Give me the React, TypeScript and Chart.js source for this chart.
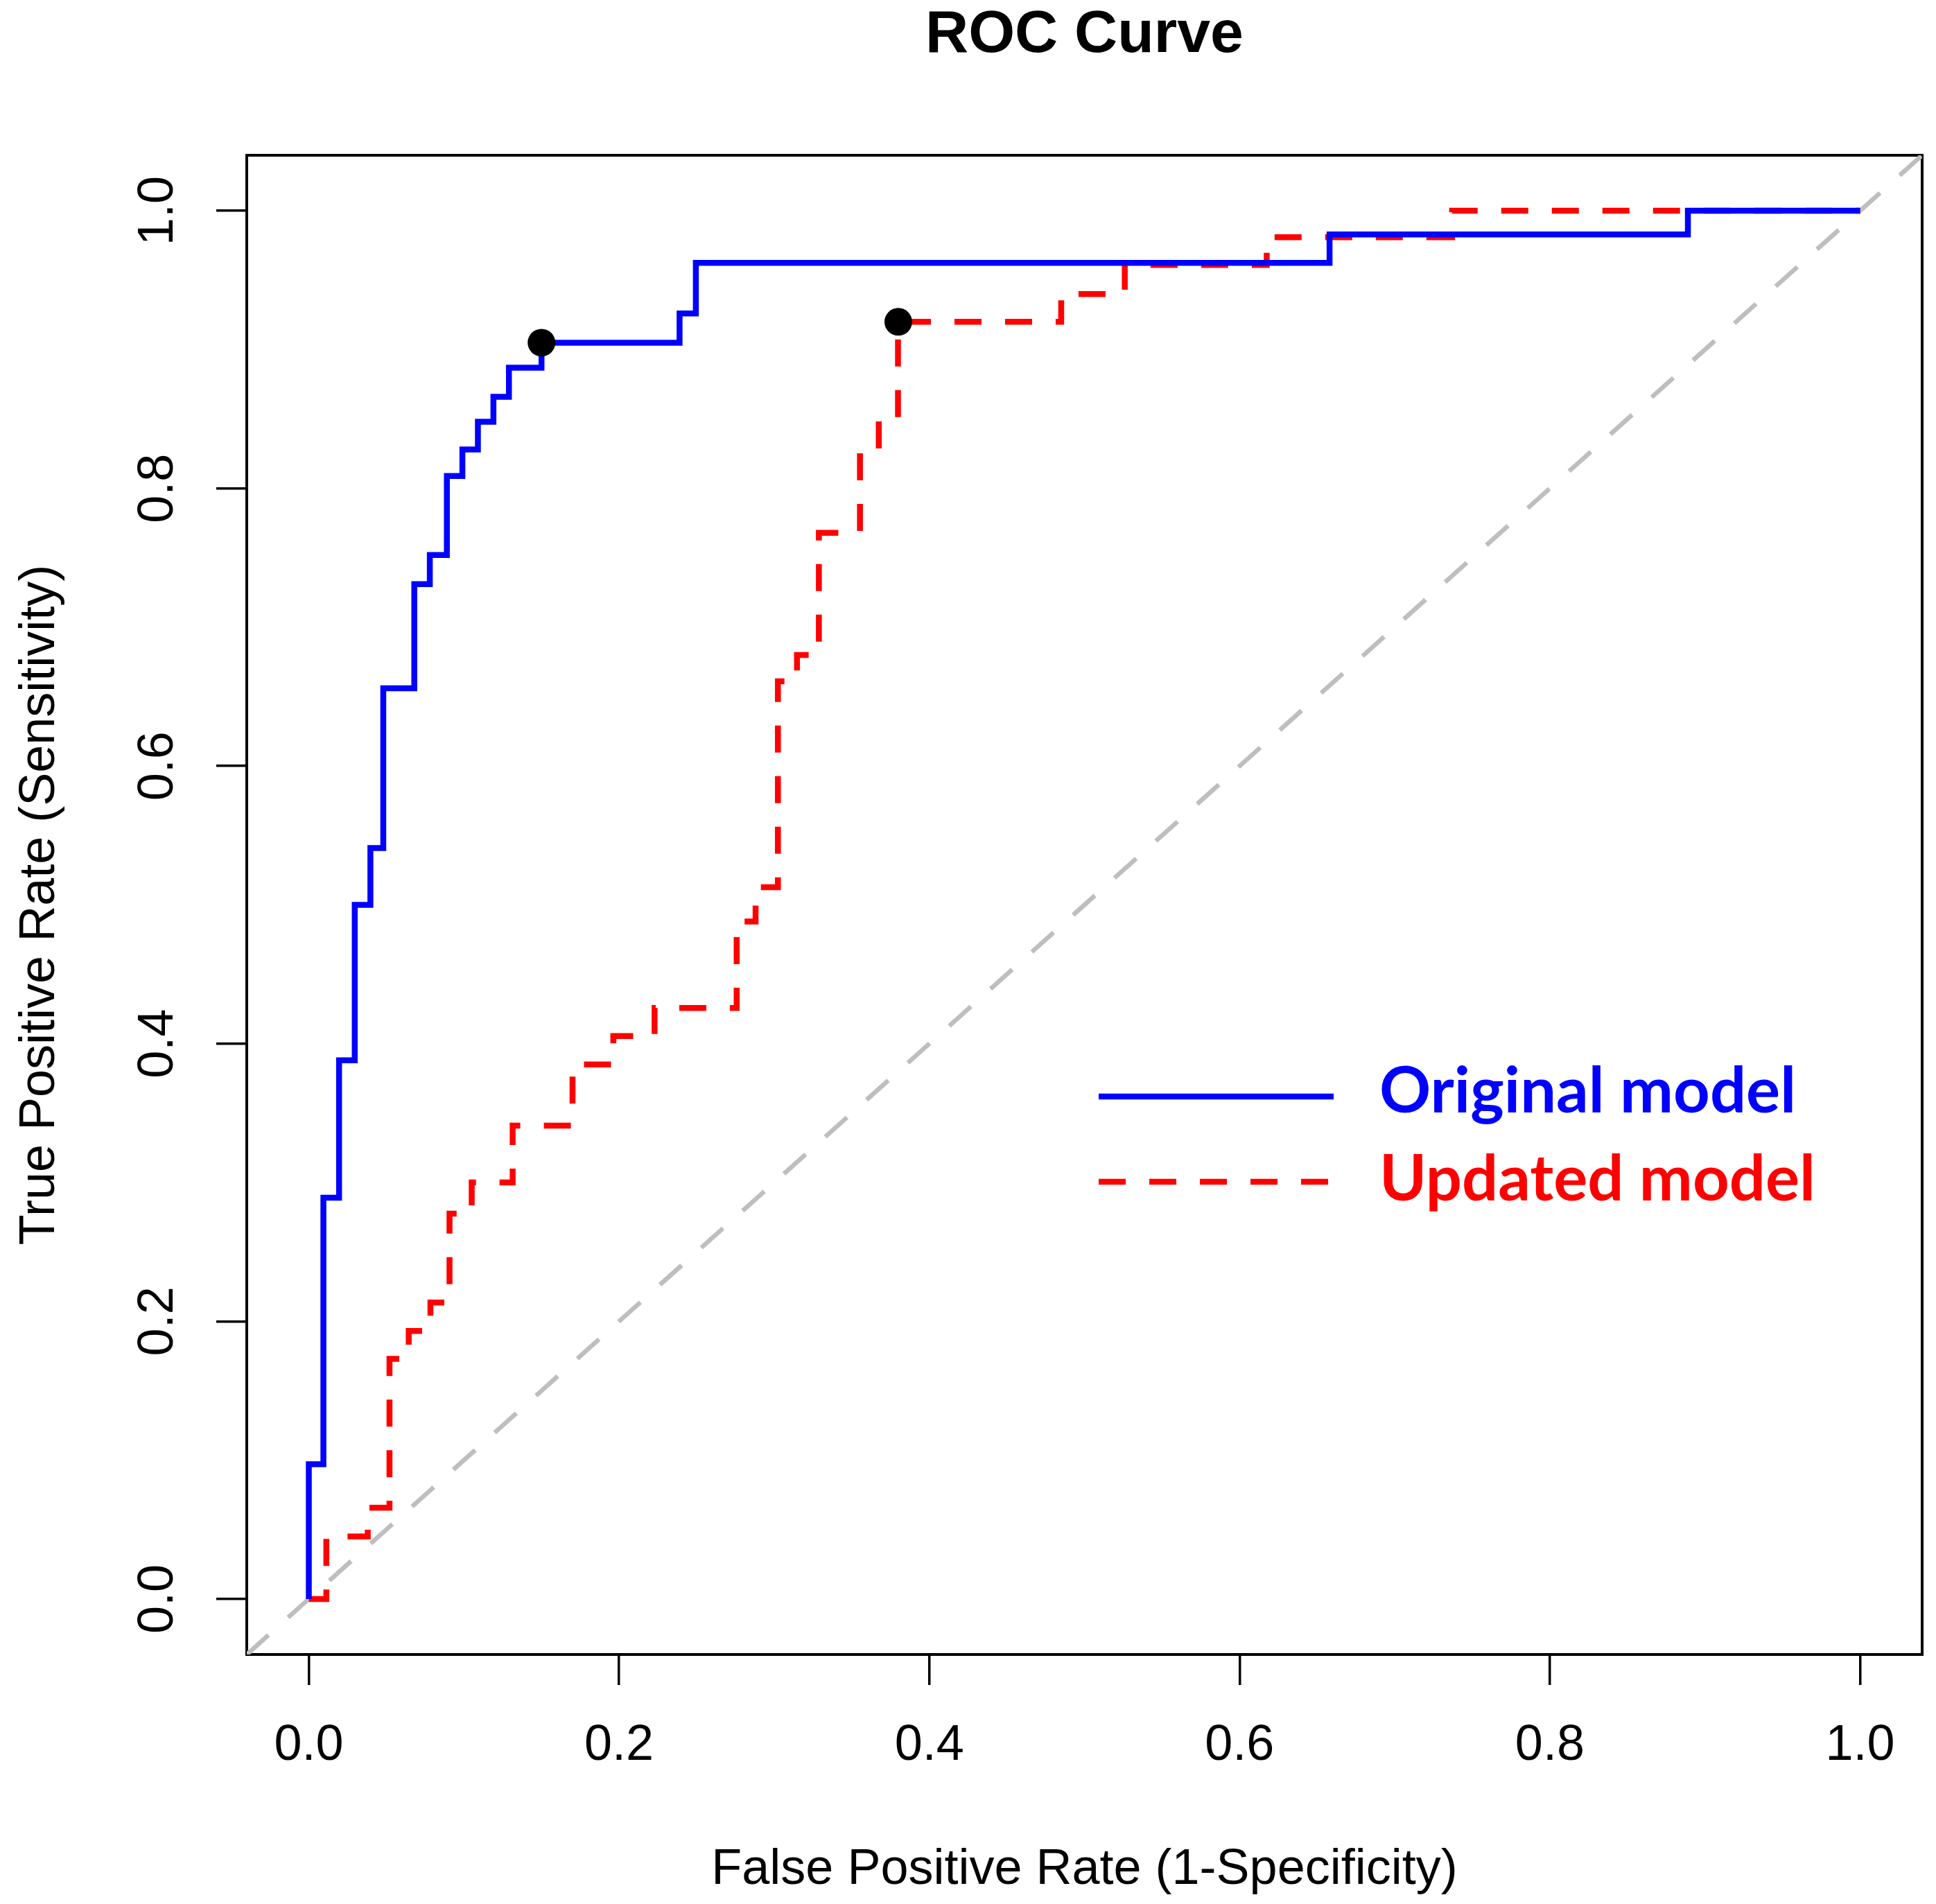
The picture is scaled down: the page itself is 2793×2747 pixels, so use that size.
import React, { useEffect, useRef } from "react";
import { Chart, registerables } from "chart.js";

Chart.register(...registerables);

// ---------- data ----------
const TITLE = "ROC Curve";
const X_TITLE = "False Positive Rate (1-Specificity)";
const Y_TITLE = "True Positive Rate (Sensitivity)";
const TICKS = [0, 0.2, 0.4, 0.6, 0.8, 1.0];
const AXIS_MIN = -0.04;
const AXIS_MAX = 1.04;

const LEGEND_LABELS = ["Original model", "Updated model"];

const ORIGINAL_FPR = [
  0, 0, 0.0094, 0.0094, 0.0195, 0.0195, 0.0296, 0.0296, 0.0397, 0.0397,
  0.048, 0.048, 0.068, 0.068, 0.078, 0.078, 0.089, 0.089, 0.099, 0.099,
  0.109, 0.109, 0.119, 0.119, 0.129, 0.129, 0.15, 0.15, 0.239, 0.239,
  0.2495, 0.2495, 0.658, 0.658, 0.889, 0.889, 1.0,
];
const ORIGINAL_TPR = [
  0, 0.097, 0.097, 0.289, 0.289, 0.388, 0.388, 0.5, 0.5, 0.541,
  0.541, 0.656, 0.656, 0.731, 0.731, 0.752, 0.752, 0.809, 0.809, 0.828,
  0.828, 0.848, 0.848, 0.866, 0.866, 0.887, 0.887, 0.905, 0.905, 0.926,
  0.926, 0.9625, 0.9625, 0.983, 0.983, 1.0, 1.0,
];

const UPDATED_FPR = [
  0, 0.0113, 0.0113, 0.038, 0.038, 0.052, 0.052, 0.0644, 0.0644, 0.0784,
  0.0784, 0.0907, 0.0907, 0.105, 0.105, 0.1314, 0.1314, 0.17, 0.17, 0.1963,
  0.1963, 0.2229, 0.2229, 0.2758, 0.2758, 0.288, 0.288, 0.3024, 0.3024, 0.3147,
  0.3147, 0.3288, 0.3288, 0.3553, 0.3553, 0.3674, 0.3674, 0.3798, 0.3798, 0.485,
  0.485, 0.526, 0.526, 0.6175, 0.6175, 0.737, 0.737, 1.0,
];
const UPDATED_TPR = [
  0, 0, 0.045, 0.045, 0.0657, 0.0657, 0.173, 0.173, 0.193, 0.193,
  0.2135, 0.2135, 0.2775, 0.2775, 0.3, 0.3, 0.341, 0.341, 0.385, 0.385,
  0.4055, 0.4055, 0.4257, 0.4257, 0.488, 0.488, 0.5127, 0.5127, 0.661, 0.661,
  0.68, 0.68, 0.768, 0.768, 0.828, 0.828, 0.849, 0.849, 0.92, 0.92,
  0.94, 0.94, 0.961, 0.961, 0.981, 0.981, 1.0, 1.0,
];

const CHANCE_X = [-0.04, 1.04];
const CHANCE_Y = [-0.04, 1.04];

const CUTOFF_FPR = [0.15, 0.38];
const CUTOFF_TPR = [0.905, 0.92];

// ---------- styles ----------
const W = 2793;
const H = 2747;
const FONT = "'Liberation Sans', Arial, sans-serif";
const BLUE = "#0000FF";
const RED = "#FF0000";
const GRAY = "#BEBEBE";
const RED_DASH = [39, 34];

const toPoints = (xs: number[], ys: number[]) => xs.map((x, i) => ({ x, y: ys[i] }));

const frameAndTextPlugin = {
  id: "frameAndText",
  beforeDraw(chart: any) {
    const ctx = chart.ctx;
    ctx.save();
    ctx.fillStyle = "#FFFFFF";
    ctx.fillRect(0, 0, chart.width, chart.height);
    ctx.restore();
  },
  beforeDatasetsDraw(chart: any) {
    const { ctx, chartArea } = chart;
    ctx.save();
    ctx.strokeStyle = "#000000";
    ctx.lineWidth = 4;
    ctx.strokeRect(chartArea.left, chartArea.top, chartArea.right - chartArea.left, chartArea.bottom - chartArea.top);
    ctx.restore();
  },
  afterDraw(chart: any) {
    const { ctx, chartArea } = chart;
    ctx.save();
    // title
    ctx.fillStyle = "#000000";
    ctx.font = `bold 86px ${FONT}`;
    ctx.textAlign = "center";
    ctx.textBaseline = "middle";
    ctx.fillText(TITLE, (chartArea.left + chartArea.right) / 2, 51);

    // legend
    const lineX0 = 1585;
    const lineX1 = 1924;
    const textX = 1990;
    const rows = [
      { label: LEGEND_LABELS[0], color: BLUE, dash: [] as number[], lineY: 1582, baseY: 1605 },
      { label: LEGEND_LABELS[1], color: RED, dash: RED_DASH, lineY: 1705, baseY: 1732 },
    ];
    rows.forEach((r) => {
      ctx.strokeStyle = r.color;
      ctx.lineWidth = 8.5;
      ctx.lineCap = "butt";
      ctx.setLineDash(r.dash);
      ctx.beginPath();
      ctx.moveTo(lineX0, r.lineY);
      ctx.lineTo(lineX1, r.lineY);
      ctx.stroke();
      ctx.setLineDash([]);
      ctx.fillStyle = r.color;
      ctx.font = `bold 92px Lato, 'Open Sans', sans-serif`;
      ctx.textAlign = "left";
      ctx.textBaseline = "alphabetic";
      ctx.fillText(r.label, textX, r.baseY);
    });
    ctx.restore();
  },
};

export default function App() {
  const canvasRef = useRef<HTMLCanvasElement | null>(null);

  useEffect(() => {
    document.body.style.margin = "0";
    const canvas = canvasRef.current;
    if (!canvas) return;

    const tickFont = { family: FONT, size: 72 };

    const chart = new Chart(canvas, {
      type: "line",
      data: {
        datasets: [
          {
            label: "Cut-off",
            data: toPoints(CUTOFF_FPR, CUTOFF_TPR),
            showLine: false,
            pointRadius: 20,
            pointBackgroundColor: "#000000",
            pointBorderColor: "#000000",
            pointBorderWidth: 0,
            borderColor: "#000000",
            order: 0,
          } as any,
          {
            label: LEGEND_LABELS[0],
            data: toPoints(ORIGINAL_FPR, ORIGINAL_TPR),
            borderColor: BLUE,
            borderWidth: 8.5,
            pointRadius: 0,
            tension: 0,
            fill: false,
            borderJoinStyle: "miter",
            order: 1,
          },
          {
            label: LEGEND_LABELS[1],
            data: toPoints(UPDATED_FPR, UPDATED_TPR),
            borderColor: RED,
            borderWidth: 8.5,
            borderDash: RED_DASH,
            pointRadius: 0,
            tension: 0,
            fill: false,
            borderJoinStyle: "miter",
            order: 2,
          },
          {
            label: "Chance",
            data: toPoints(CHANCE_X, CHANCE_Y),
            borderColor: GRAY,
            borderWidth: 6.5,
            borderDash: [42, 38],
            pointRadius: 0,
            tension: 0,
            fill: false,
            order: 3,
            clip: 0,
          } as any,
        ],
      },
      options: {
        responsive: false,
        animation: false,
        devicePixelRatio: 1,
        events: [],
        layout: { padding: { top: 224, right: 14, bottom: 0, left: 0 } },
        plugins: {
          legend: { display: false },
          title: { display: false },
          tooltip: { enabled: false },
        },
        scales: {
          x: {
            type: "linear",
            min: AXIS_MIN,
            max: AXIS_MAX,
            afterBuildTicks: (s: any) => {
              s.ticks = TICKS.map((v) => ({ value: v }));
            },
            afterFit: (s: any) => {
              s.height = 360;
            },
            border: { display: false },
            grid: {
              drawOnChartArea: false,
              drawTicks: true,
              tickLength: 44,
              color: "#000000",
              lineWidth: 3.5,
            },
            ticks: {
              autoSkip: false,
              maxRotation: 0,
              minRotation: 0,
              padding: 45,
              color: "#000000",
              font: tickFont,
              callback: (v: any) => Number(v).toFixed(1),
            },
            title: {
              display: true,
              text: X_TITLE,
              color: "#000000",
              font: tickFont,
              padding: { top: 0, bottom: 6 },
            },
          },
          y: {
            type: "linear",
            min: AXIS_MIN,
            max: AXIS_MAX,
            afterBuildTicks: (s: any) => {
              s.ticks = TICKS.map((v) => ({ value: v }));
            },
            afterFit: (s: any) => {
              s.width = 356;
            },
            border: { display: false },
            grid: {
              drawOnChartArea: false,
              drawTicks: true,
              tickLength: 44,
              color: "#000000",
              lineWidth: 3.5,
            },
            ticks: {
              autoSkip: false,
              minRotation: 90,
              maxRotation: 90,
              crossAlign: "center",
              padding: 33,
              color: "#000000",
              font: tickFont,
              callback: (v: any) => Number(v).toFixed(1),
            },
            title: {
              display: true,
              text: Y_TITLE,
              color: "#000000",
              font: tickFont,
              padding: { top: 15, bottom: 0 },
            },
          },
        },
      } as any,
      plugins: [frameAndTextPlugin],
    });

    return () => {
      chart.destroy();
    };
  }, []);

  return (
    <div style={{ position: "absolute", left: 0, top: 0, width: W, height: H, background: "#FFFFFF" }}>
      <canvas ref={canvasRef} width={W} height={H} style={{ width: W, height: H, display: "block" }} />
    </div>
  );
}
